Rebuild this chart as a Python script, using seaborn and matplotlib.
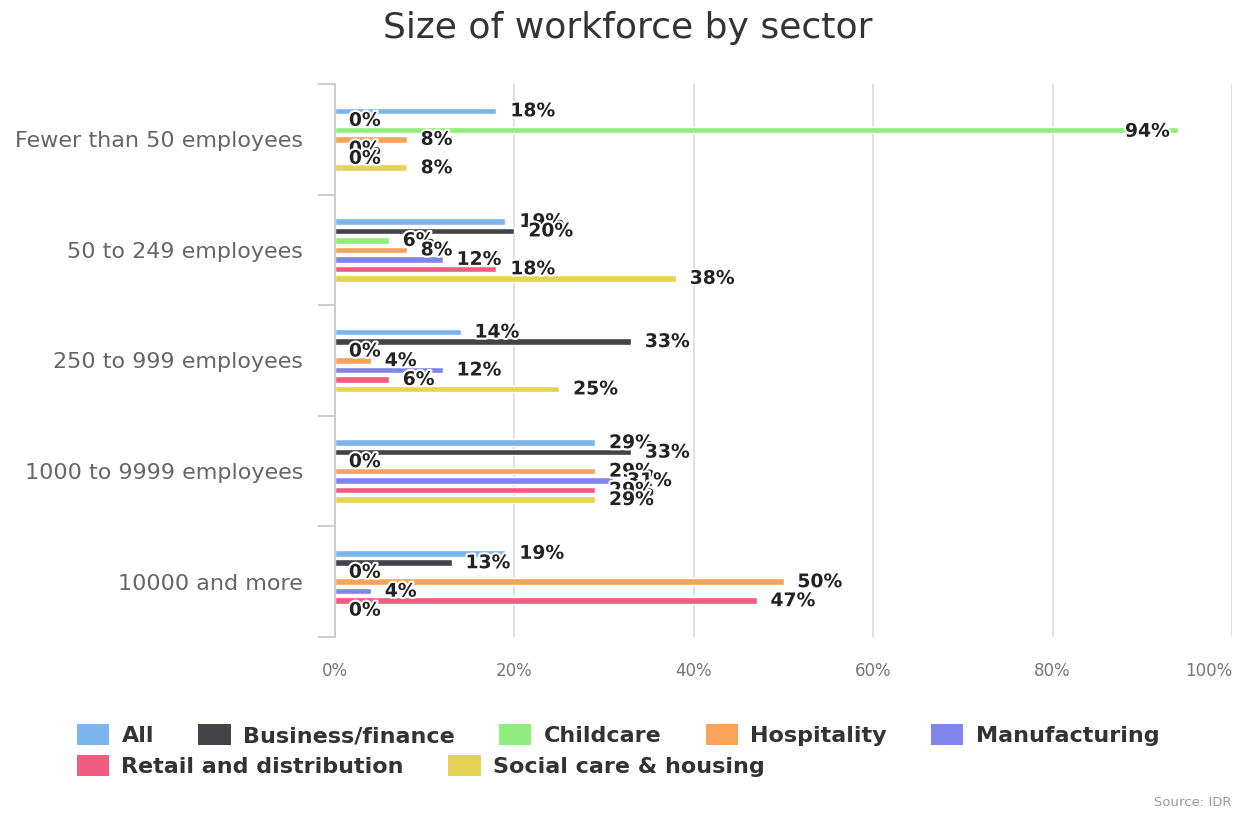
import matplotlib
matplotlib.use("Agg")
import matplotlib.pyplot as plt
import matplotlib.patheffects as pe
from matplotlib.patches import Patch
from matplotlib.ticker import FixedLocator
import numpy as np
import pandas as pd
import seaborn as sns

# Company size bands (categories) and sectors (series)
sizes = [
    "Fewer than 50 employees",
    "50 to 249 employees",
    "250 to 999 employees",
    "1000 to 9999 employees",
    "10000 and more",
]
sectors = [
    "All",
    "Business/finance",
    "Childcare",
    "Hospitality",
    "Manufacturing",
    "Retail and distribution",
    "Social care & housing",
]

# Share of each sector's workforce by company size (%)
all_sectors = [18, 19, 14, 29, 19]
business_finance = [0, 20, 33, 33, 13]
childcare = [94, 6, 0, 0, 0]
hospitality = [8, 8, 4, 29, 50]
manufacturing = [0, 12, 12, 31, 4]
retail_distribution = [0, 18, 6, 29, 47]
social_care_housing = [8, 38, 25, 29, 0]

series = [all_sectors, business_finance, childcare, hospitality,
          manufacturing, retail_distribution, social_care_housing]

x_ticks = [0, 20, 40, 60, 80, 100]

palette = ["#7cb5ec", "#434348", "#90ed7d", "#f7a35c",
           "#8085e9", "#f15c80", "#e4d354"]

rows = []
for sector, vals in zip(sectors, series):
    for size, v in zip(sizes, vals):
        rows.append({"size": size, "sector": sector, "share": v})
df = pd.DataFrame(rows)

sns.set_theme(style="white")
plt.rcParams["font.family"] = ["DejaVu Sans"]

fig = plt.figure(figsize=(12.41, 8.16), dpi=100)
left, right, top, bottom = 335 / 1241, 1232 / 1241, 1 - 84 / 816, 1 - 637 / 816
ax = fig.add_axes([left, bottom, right - left, top - bottom])

sns.barplot(
    data=df, y="size", x="share", hue="sector",
    order=sizes, hue_order=sectors, palette=palette,
    orient="h", width=0.6, gap=0.3, saturation=1,
    errorbar=None, legend=False, ax=ax,
)

ax.set_xlim(0, 100)
ax.set_ylim(4.5, -0.5)
ax.set_xticks(x_ticks)
ax.set_xticklabels([f"{t}%" for t in x_ticks])
ax.get_xticklabels()[-1].set_horizontalalignment("right")
ax.set_xlabel("")
ax.set_ylabel("")

ax.xaxis.grid(True, color="#dedede", linewidth=1.3)
ax.yaxis.grid(False)
ax.set_axisbelow(True)
for side in ["top", "right", "bottom"]:
    ax.spines[side].set_visible(False)
ax.spines["left"].set_color("#c8c8c8")
ax.spines["left"].set_linewidth(1.3)

ax.tick_params(axis="x", length=0, pad=18, labelsize=12, labelcolor="#777777")
ax.tick_params(axis="y", which="major", length=0, pad=23,
               labelsize=16, labelcolor="#666666")
ax.yaxis.set_minor_locator(FixedLocator(np.arange(-0.5, 5.0, 1.0)))
ax.tick_params(axis="y", which="minor", length=12, width=1.3,
               color="#c8c8c8", direction="out", left=True)

# Value labels at the end of each bar; long bars get the label inside
xmax = ax.get_xlim()[1]
for cont in ax.containers:
    texts = ax.bar_label(cont, fmt="{:.0f}%", padding=10, fontsize=13.5,
                         fontweight="bold", color="#222222")
    for bar, t in zip(cont, texts):
        t.set_path_effects([pe.withStroke(linewidth=3, foreground="white")])
        if bar.get_width() > 0.9 * xmax:
            t.set_horizontalalignment("right")
            t.xyann = (-6, -1)

fig.text(0.5056, 0.966, "Size of workforce by sector", ha="center",
         va="center", fontsize=26, color="#333333")

legend_kw = dict(
    frameon=False, prop={"size": 16, "weight": "bold"},
    handlelength=1.45, handleheight=1.1, handletextpad=0.55,
    columnspacing=2.0, borderpad=0, borderaxespad=0, labelcolor="#333333",
)
handles = [Patch(facecolor=c, edgecolor="none") for c in palette]
fig.legend(handles[:5], sectors[:5], loc="center left",
           bbox_to_anchor=(77 / 1241, 1 - 735 / 816), ncol=5, **legend_kw)
fig.legend(handles[5:], sectors[5:], loc="center left",
           bbox_to_anchor=(77 / 1241, 1 - 766 / 816), ncol=2, **legend_kw)

fig.text(1232 / 1241, 1 - 803 / 816, "Source: IDR", ha="right", va="center",
         fontsize=9.5, color="#999999")

fig.savefig("out.png", dpi=100)
